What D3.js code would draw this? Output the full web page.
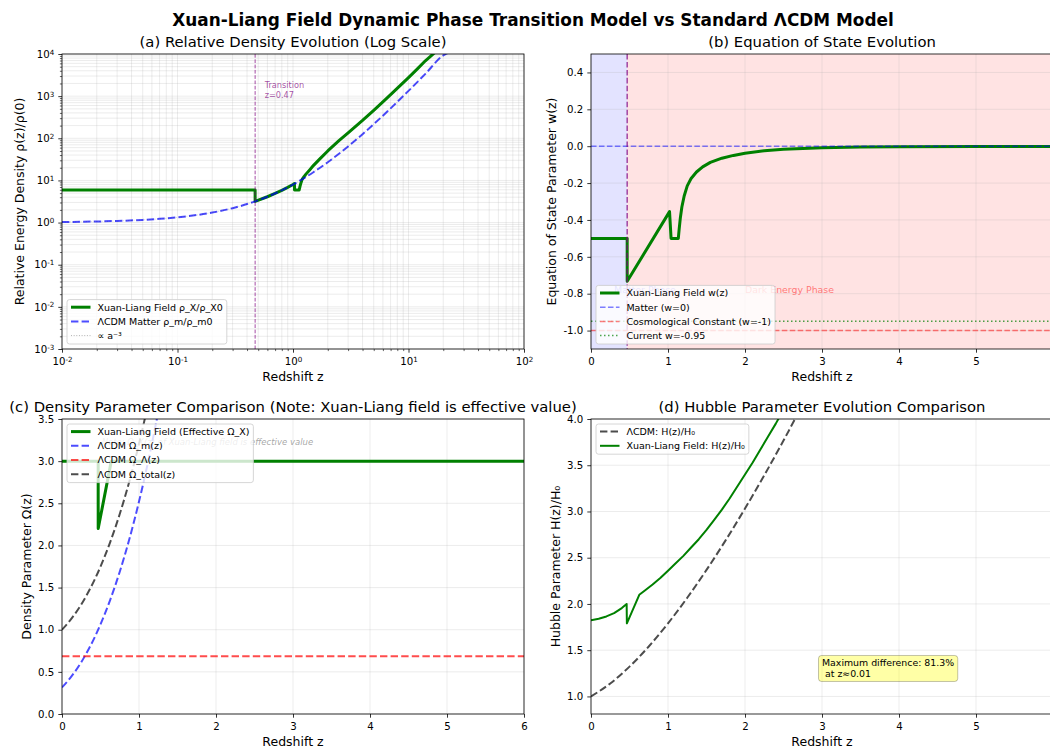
<!DOCTYPE html>
<html><head><meta charset="utf-8">
<script src="https://cdn.jsdelivr.net/npm/d3@7"></script>
<style>
body{margin:0;background:#fff;overflow:hidden;}
svg{display:block;font-family:"DejaVu Sans",sans-serif;}
</style></head><body>
<svg id="chart" width="1050" height="747"></svg>
<script>
// ---------------- DATA ----------------
const zTransition = 0.47;
// (a) relative density
const zRhoM = [0.01,0.015,0.02,0.03,0.05,0.07,0.1,0.15,0.2,0.3,0.47,0.6,0.8,1,1.2,1.5,2,2.5,3,4,5,7,10,14,20,22];
const rhoM  = [1.0303,1.0457,1.0612,1.0927,1.1576,1.225,1.331,1.521,1.728,2.197,3.177,4.096,5.832,8,10.65,15.63,27,42.88,64,125,216,512,1331,3375,9261,10648];
const zRhoX = [0.01,0.1,0.2,0.3,0.4,0.4699,0.4701,0.6,0.7,0.8,0.9,1.0,1.029,1.031,1.13,1.15,1.17,1.2,1.25,1.3,1.4,1.5,1.7,2,2.5,3,4,5,6,7,8.5,10,12,14,17];
const rhoX  = [5.9,5.9,5.9,5.9,5.9,5.9,3.18,4.1,4.91,5.83,6.86,8.0,8.4,5.9,5.9,7.2,8.6,10.6,12.5,14.3,18,22.5,32,50,88,135,265,460,730,1090,1800,2750,4500,6900,11000];
// (b) equation of state
const zW = [0,0.2,0.4699,0.4701,1.02,1.04,1.134,1.145,1.16,1.18,1.21,1.25,1.3,1.37,1.45,1.55,1.7,1.85,2.0,2.25,2.5,2.75,3,3.5,4,5,6];
const wX = [-0.5,-0.5,-0.5,-0.733,-0.355,-0.5,-0.5,-0.45,-0.39,-0.33,-0.27,-0.215,-0.175,-0.14,-0.112,-0.088,-0.065,-0.05,-0.038,-0.025,-0.017,-0.012,-0.009,-0.005,-0.003,-0.0015,-0.001];
const wMatter = 0, wLambda = -1, wCurrent = -0.95;
// (c) density parameters
const zOmM = [0,0.125,0.25,0.375,0.5,0.625,0.75,0.875,1.0,1.1,1.2,1.25];
const omegaM = [0.315,0.449,0.615,0.819,1.063,1.352,1.688,2.076,2.52,2.917,3.354,3.588];
const zOmT = [0,0.125,0.25,0.375,0.5,0.625,0.75,0.875,1.0,1.1];
const omegaTotal = [1.0,1.134,1.30,1.504,1.748,2.037,2.373,2.761,3.205,3.602];
const omegaLambda = 0.685;
const zOmX = [0,0.4699,0.4701,0.64,6];
const omegaX = [3.0,3.0,2.2,3.0,3.0];
// (d) Hubble parameter
const zHL = [0,0.25,0.5,0.75,1.0,1.25,1.5,1.75,2.0,2.25,2.5,2.75];
const hLCDM = [1.0,1.140,1.322,1.540,1.790,2.067,2.368,2.690,3.032,3.391,3.767,4.159];
const zHX = [0,0.1,0.2,0.3,0.4,0.463,0.466,0.627,0.7,0.8,0.9,1.0,1.1,1.2,1.3,1.4,1.5,1.6,1.7,1.8,1.9,2.0,2.1,2.2,2.3,2.4,2.5];
const hXL = [1.824,1.84,1.865,1.9,1.955,2.0,1.79,2.099,2.145,2.21,2.28,2.36,2.44,2.52,2.61,2.70,2.80,2.91,3.02,3.14,3.27,3.40,3.53,3.67,3.81,3.95,4.10];
const maxDiffText = ["Maximum difference: 81.3%", " at z\u22480.01"];
// ticks
const logTicksX = [0.01,0.1,1,10,100];
const logTicksY = [1e-3,1e-2,1e-1,1,10,100,1e3,1e4];
const zTicks = [0,1,2,3,4,5,6];
const wTicks = [-1.0,-0.8,-0.6,-0.4,-0.2,0.0,0.2,0.4];
const omTicks = [0,0.5,1.0,1.5,2.0,2.5,3.0,3.5];
const hTicks = [1.0,1.5,2.0,2.5,3.0,3.5,4.0];

// ---------------- LAYOUT ----------------
const svg = d3.select("#chart");
const W = 462, H = 295;
const FS_TICK = 10.2, FS_LEG = 9.5, FS_LAB = 12.5, FS_TITLE = 14.8;
const defs = svg.append("defs");
const GREEN = "#008000";

svg.append("text").attr("x",533).attr("y",25.5).attr("text-anchor","middle")
  .attr("font-size",16.9).attr("font-weight","bold")
  .text("Xuan-Liang Field Dynamic Phase Transition Model vs Standard \u039BCDM Model");

function panel(x0,y0,id){
  const g = svg.append("g").attr("transform",`translate(${x0},${y0})`);
  defs.append("clipPath").attr("id",id).append("rect").attr("width",W).attr("height",H);
  const grid = g.append("g");
  const plot = g.append("g").attr("clip-path",`url(#${id})`);
  const over = g.append("g");
  return {g, grid, plot, over};
}
function gridLines(gg, x, y, xv, yv){
  gg.selectAll(null).data(xv).enter().append("line")
    .attr("x1",d=>x(d)).attr("x2",d=>x(d)).attr("y1",0).attr("y2",H)
    .attr("stroke","#b0b0b0").attr("stroke-opacity",0.3).attr("stroke-width",0.8);
  gg.selectAll(null).data(yv).enter().append("line")
    .attr("y1",d=>y(d)).attr("y2",d=>y(d)).attr("x1",0).attr("x2",W)
    .attr("stroke","#b0b0b0").attr("stroke-opacity",0.3).attr("stroke-width",0.8);
}
function styleAxis(a){
  a.select(".domain").remove();
  a.selectAll(".tick line").attr("stroke","#000").attr("stroke-width",0.8);
  a.selectAll(".tick text").attr("fill","#000").attr("font-size",FS_TICK).attr("font-family","DejaVu Sans");
}
function axes(p, x, y, xv, yv, xfmt, yfmt){
  const ax = p.over.append("g").attr("transform",`translate(0,${H})`)
    .call(d3.axisBottom(x).tickValues(xv).tickFormat(xfmt).tickSize(3.7).tickPadding(5).tickSizeOuter(0));
  styleAxis(ax);
  const ay = p.over.append("g")
    .call(d3.axisLeft(y).tickValues(yv).tickFormat(yfmt).tickSize(3.7).tickPadding(4).tickSizeOuter(0));
  styleAxis(ay);
  return {ax, ay};
}
function frame(p){
  p.over.append("rect").attr("width",W).attr("height",H).attr("fill","none")
    .attr("stroke","#000").attr("stroke-width",0.8);
}
function labels(p, xl, yl, ylx, title){
  p.over.append("text").attr("x",W/2).attr("y",H+31.5).attr("text-anchor","middle")
    .attr("font-size",FS_LAB).text(xl);
  p.over.append("text").attr("transform",`translate(${ylx},${H/2}) rotate(-90)`)
    .attr("text-anchor","middle").attr("dy","0.35em").attr("font-size",FS_LAB).text(yl);
  p.over.append("text").attr("x",W/2).attr("y",-7.5).attr("text-anchor","middle")
    .attr("font-size",FS_TITLE).text(title);
}
function legend(p, left, top, bottom, entries){
  const n = entries.length, pitch = 14.2, hgt = n*pitch + 1.8;
  const t = top != null ? top : bottom - hgt;
  const lg = p.over.append("g");
  const rect = lg.append("rect");
  let maxW = 0;
  entries.forEach((e,i)=>{
    const cy = t + 7.6 + pitch*i;
    lg.append("line").attr("x1",left+4).attr("x2",left+23.5).attr("y1",cy).attr("y2",cy)
      .attr("stroke",e.color).attr("stroke-width",e.w).attr("stroke-dasharray",e.dash||null)
      .attr("stroke-opacity",e.op==null?1:e.op);
    const tx = lg.append("text").attr("x",left+30.4).attr("y",cy).attr("dy","0.35em")
      .attr("font-size",FS_LEG).text(e.label);
    maxW = Math.max(maxW, tx.node().getComputedTextLength());
  });
  rect.attr("x",left).attr("y",t).attr("width",maxW+34.4).attr("height",hgt).attr("rx",2.5)
    .attr("fill","#fff").attr("fill-opacity",0.8).attr("stroke","#cccccc").attr("stroke-width",0.8);
}
function path(g, xs, ys, x, y, style, curve){
  const line = d3.line().x(d=>x(d[0])).y(d=>y(d[1])).curve(curve||d3.curveLinear);
  const el = g.append("path").datum(d3.zip(xs,ys)).attr("d",line).attr("fill","none")
    .attr("stroke",style.color).attr("stroke-width",style.w)
    .attr("stroke-linejoin","round");
  if(style.dash) el.attr("stroke-dasharray",style.dash);
  if(style.op!=null) el.attr("stroke-opacity",style.op);
  return el;
}
const DASH2 = "7.4,3.2", DASH15 = "5.55,2.4", DASH1 = "3.7,1.6", DOT15 = "1.5,2.5", DOT1 = "1,1.65";
const fmt1 = v => v.toFixed(1);
const fmt0 = v => String(v);

// ---------------- (a) ----------------
{
  const p = panel(62,54,"clipA");
  const x = d3.scaleLog().domain([0.01,100]).range([0,W]);
  const y = d3.scaleLog().domain([1e-3,1e4]).range([H,0]);
  const minX = [], minY = [];
  [-2,-1,0,1].forEach(e=>{ for(let k=2;k<10;k++) minX.push(k*Math.pow(10,e)); });
  [-3,-2,-1,0,1,2,3].forEach(e=>{ for(let k=2;k<10;k++) minY.push(k*Math.pow(10,e)); });
  gridLines(p.grid, x, y, logTicksX.concat(minX), logTicksY.concat(minY));
  path(p.plot, zRhoX, rhoX, x, y, {color:GREEN, w:3});
  path(p.plot, zRhoM, rhoM, x, y, {color:"blue", w:2, dash:DASH2, op:0.7}, d3.curveMonotoneX);
  path(p.plot, zRhoM, rhoM, x, y, {color:"#000", w:0.8, dash:DOT1, op:0.2}, d3.curveMonotoneX);
  p.plot.append("line").attr("x1",x(zTransition)).attr("x2",x(zTransition)).attr("y1",0).attr("y2",H)
    .attr("stroke","purple").attr("stroke-opacity",0.7).attr("stroke-width",1).attr("stroke-dasharray",DASH1);
  const tt = p.plot.append("text").attr("font-size",8.2).attr("fill","purple").attr("fill-opacity",0.7);
  tt.append("tspan").attr("x",x(zTransition)+9.5).attr("y",34).text("Transition");
  tt.append("tspan").attr("x",x(zTransition)+9.5).attr("y",43.5).text("z=0.47");
  const supFmt = function(sel){
    sel.selectAll(".tick text").each(function(d){
      const e = Math.round(Math.log10(d));
      const t = d3.select(this); t.text("10");
      t.append("tspan").attr("dy","-0.45em").attr("font-size","0.7em").text(e);
    });
  };
  const {ax, ay} = axes(p, x, y, logTicksX, logTicksY, fmt0, fmt0);
  supFmt(ax); supFmt(ay);
  const mx = p.over.append("g").attr("transform",`translate(0,${H})`)
    .call(d3.axisBottom(x).tickValues(minX).tickFormat("").tickSize(2.1).tickSizeOuter(0));
  mx.select(".domain").remove(); mx.selectAll(".tick line").attr("stroke","#000").attr("stroke-width",0.6);
  const my = p.over.append("g")
    .call(d3.axisLeft(y).tickValues(minY).tickFormat("").tickSize(2.1).tickSizeOuter(0));
  my.select(".domain").remove(); my.selectAll(".tick line").attr("stroke","#000").attr("stroke-width",0.6);
  frame(p);
  labels(p, "Redshift z", "Relative Energy Density \u03C1(z)/\u03C1(0)", -42.5, "(a) Relative Density Evolution (Log Scale)");
  legend(p, 5, null, H-5, [
    {label:"Xuan-Liang Field \u03C1_X/\u03C1_X0", color:GREEN, w:3},
    {label:"\u039BCDM Matter \u03C1_m/\u03C1_m0", color:"blue", w:2, dash:DASH2, op:0.7},
    {label:"\u221D a\u207B\u00B3", color:"#000", w:1, dash:DOT1, op:0.3}
  ]);
}

// ---------------- (b) ----------------
{
  const p = panel(591,54,"clipB");
  const x = d3.scaleLinear().domain([0,6]).range([0,W]);
  const y = d3.scaleLinear().domain([-1.1,0.5]).range([H,0]);
  p.grid.append("rect").attr("x",x(0)).attr("width",x(zTransition)-x(0)).attr("height",H)
    .attr("fill","blue").attr("fill-opacity",0.11);
  p.grid.append("rect").attr("x",x(zTransition)).attr("width",x(6)-x(zTransition)).attr("height",H)
    .attr("fill","red").attr("fill-opacity",0.11);
  gridLines(p.grid, x, y, zTicks, wTicks);
  path(p.plot, zW, wX, x, y, {color:GREEN, w:3});
  const hl = (v,c,dash,op)=> p.plot.append("line").attr("x1",0).attr("x2",W).attr("y1",y(v)).attr("y2",y(v))
    .attr("stroke",c).attr("stroke-width",1.5).attr("stroke-dasharray",dash).attr("stroke-opacity",op);
  hl(wMatter,"blue",DASH15,0.5);
  hl(wLambda,"red",DASH15,0.5);
  hl(wCurrent,"green",DOT15,0.7);
  p.plot.append("line").attr("x1",x(zTransition)).attr("x2",x(zTransition)).attr("y1",0).attr("y2",H)
    .attr("stroke","purple").attr("stroke-opacity",0.7).attr("stroke-width",1.5).attr("stroke-dasharray",DASH15);
  p.plot.append("text").attr("x",x(0.3)).attr("y",y(-0.78)).attr("dy","0.35em").attr("font-size",9.4)
    .attr("fill","blue").attr("fill-opacity",0.5).text("Matter Phase");
  p.plot.append("text").attr("x",x(2.0)).attr("y",y(-0.78)).attr("dy","0.35em").attr("font-size",9.4)
    .attr("fill","red").attr("fill-opacity",0.5).text("Dark Energy Phase");
  axes(p, x, y, zTicks, wTicks, fmt0, fmt1);
  frame(p);
  labels(p, "Redshift z", "Equation of State Parameter w(z)", -39.5, "(b) Equation of State Evolution");
  legend(p, 5, null, H-5, [
    {label:"Xuan-Liang Field w(z)", color:GREEN, w:3},
    {label:"Matter (w=0)", color:"blue", w:1.5, dash:DASH15, op:0.5},
    {label:"Cosmological Constant (w=-1)", color:"red", w:1.5, dash:DASH15, op:0.5},
    {label:"Current w=-0.95", color:"green", w:1.5, dash:DOT15, op:0.7}
  ]);
}

// ---------------- (c) ----------------
{
  const p = panel(62,419,"clipC");
  const x = d3.scaleLinear().domain([0,6]).range([0,W]);
  const y = d3.scaleLinear().domain([0,3.5]).range([H,0]);
  gridLines(p.grid, x, y, zTicks, omTicks);
  path(p.plot, zOmX, omegaX, x, y, {color:GREEN, w:3});
  path(p.plot, zOmM, omegaM, x, y, {color:"blue", w:2, dash:DASH2, op:0.7}, d3.curveMonotoneX);
  path(p.plot, [0,6], [omegaLambda,omegaLambda], x, y, {color:"red", w:2, dash:DASH2, op:0.7});
  path(p.plot, zOmT, omegaTotal, x, y, {color:"#000", w:2, dash:DASH2, op:0.7}, d3.curveMonotoneX);
  p.plot.append("text").attr("x",39.7).attr("y",25.5).attr("font-size",8.5).attr("font-style","italic")
    .attr("fill","gray").attr("fill-opacity",0.7).text("Note: \u03A9_X(z) of Xuan-Liang field is effective value");
  axes(p, x, y, zTicks, omTicks, fmt0, fmt1);
  frame(p);
  labels(p, "Redshift z", "Density Parameter \u03A9(z)", -35, "(c) Density Parameter Comparison (Note: Xuan-Liang field is effective value)");
  legend(p, 5, 5, null, [
    {label:"Xuan-Liang Field (Effective \u03A9_X)", color:GREEN, w:3},
    {label:"\u039BCDM \u03A9_m(z)", color:"blue", w:2, dash:DASH2, op:0.7},
    {label:"\u039BCDM \u03A9_\u039B(z)", color:"red", w:2, dash:DASH2, op:0.7},
    {label:"\u039BCDM \u03A9_total(z)", color:"#000", w:2, dash:DASH2, op:0.7}
  ]);
}

// ---------------- (d) ----------------
{
  const p = panel(591,419,"clipD");
  const x = d3.scaleLinear().domain([0,6]).range([0,W]);
  const y = d3.scaleLinear().domain([0.81,4.0]).range([H,0]);
  gridLines(p.grid, x, y, zTicks, hTicks);
  path(p.plot, zHL, hLCDM, x, y, {color:"#000", w:2, dash:DASH2, op:0.7}, d3.curveMonotoneX);
  path(p.plot, zHX, hXL, x, y, {color:GREEN, w:2});
  axes(p, x, y, zTicks, hTicks, fmt0, fmt1);
  frame(p);
  labels(p, "Redshift z", "Hubble Parameter H(z)/H\u2080", -35.3, "(d) Hubble Parameter Evolution Comparison");
  legend(p, 5, 5, null, [
    {label:"\u039BCDM: H(z)/H\u2080", color:"#000", w:2, dash:DASH2, op:0.7},
    {label:"Xuan-Liang Field: H(z)/H\u2080", color:GREEN, w:2}
  ]);
  const ag = p.over.append("g");
  const bx = ag.append("rect");
  const tx0 = x(3.0), ty0 = y(1.3);
  const t = ag.append("text").attr("font-size",9.4);
  t.append("tspan").attr("x",tx0).attr("y",ty0-5.5).attr("dy","0.35em").text(maxDiffText[0]);
  t.append("tspan").attr("x",tx0).attr("y",ty0+5.5).attr("dy","0.35em").style("white-space","pre").text(maxDiffText[1]);
  const bb = t.node().getBBox();
  bx.attr("x",bb.x-3.5).attr("y",bb.y-2).attr("width",bb.width+7).attr("height",bb.height+4).attr("rx",3)
    .attr("fill","yellow").attr("fill-opacity",0.35).attr("stroke","#000").attr("stroke-opacity",0.3).attr("stroke-width",0.8);
}
</script>
</body></html>
